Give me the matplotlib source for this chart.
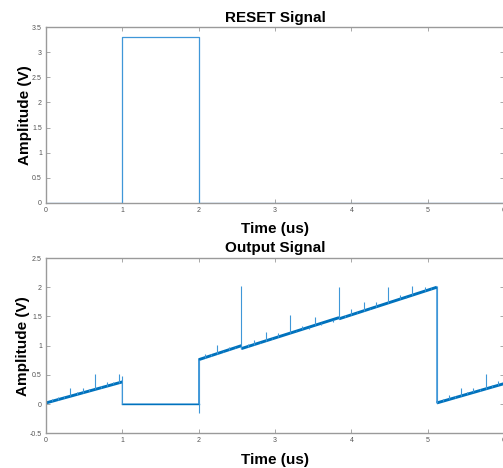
import numpy as np
import matplotlib
matplotlib.use("Agg")
import matplotlib.pyplot as plt

# ---- data ----
reset_t = [0, 1, 1, 2, 2, 6]
reset_v = [0, 0, 3.3, 3.3, 0, 0]

base_t = [0, 1, 1, 2, 2, 2.56, 2.56, 3.84, 3.84, 5.12, 5.12, 6]
base_v = [0.02, 0.38, 0.0, 0.0, 0.76, 1.0, 0.95, 1.48, 1.46, 2.0, 0.02, 0.35]

spike_t = [0.08, 0.16, 0.24, 0.32, 0.40, 0.48, 0.56, 0.64, 0.72, 0.80, 0.88, 0.96, 1.0,
           2.0, 2.08, 2.16, 2.24, 2.32, 2.40, 2.48, 2.56,
           2.64, 2.72, 2.80, 2.88, 2.96, 3.04, 3.12, 3.20, 3.28, 3.36, 3.44, 3.52,
           3.60, 3.68, 3.76, 3.84,
           3.92, 4.00, 4.08, 4.16, 4.24, 4.32, 4.40, 4.48, 4.56, 4.64, 4.72, 4.80,
           4.88, 4.96, 5.04, 5.12,
           5.20, 5.28, 5.36, 5.44, 5.52, 5.60, 5.68, 5.76, 5.84, 5.92]
spike_peak = [0.08, 0.13, 0.14, 0.27, 0.20, 0.27, 0.26, 0.52, 0.31, 0.37, 0.37, 0.52, 0.48,
              -0.15, 0.85, 0.85, 1.01, 0.91, 0.98, 0.98, 2.02,
              1.02, 1.10, 1.07, 1.24, 1.13, 1.22, 1.18, 1.52, 1.24, 1.33, 1.29, 1.49,
              1.35, 1.43, 1.40, 2.00,
              1.53, 1.62, 1.57, 1.75, 1.65, 1.74, 1.69, 2.01, 1.77, 1.86, 1.82, 2.02,
              1.90, 2.00, 1.99, 2.02,
              0.09, 0.15, 0.14, 0.27, 0.20, 0.27, 0.26, 0.51, 0.33, 0.40]

xticks = [0, 1, 2, 3, 4, 5, 6]
yticks_top = [0, 0.5, 1, 1.5, 2, 2.5, 3, 3.5]
yticks_bot = [-0.5, 0, 0.5, 1, 1.5, 2, 2.5]

# ---- style ----
plt.rcParams['font.family'] = ['Liberation Sans', 'DejaVu Sans']
BLUE = '#0072BD'
THIN = '#3f97d8'
SPINE = '#9a9a9a'
TICKC = '#555555'

fig = plt.figure(figsize=(5.03, 4.68), dpi=100)
ax1 = fig.add_axes([0.0915, 0.5669, 0.9105, 0.3748])
ax2 = fig.add_axes([0.0915, 0.0741, 0.9105, 0.3746])


def style(ax, yticks, ylim, title):
    ax.set_xlim(0, 6)
    ax.set_ylim(*ylim)
    ax.set_xticks(xticks)
    ax.set_yticks(yticks)
    ax.set_xticklabels([f"{v:g}" for v in xticks])
    ax.set_yticklabels([f"{v:g}" for v in yticks])
    ax.tick_params(direction='in', length=3, width=0.6, colors=SPINE,
                   labelcolor=TICKC, labelsize=5, top=True, right=True, pad=3)
    for s in ax.spines.values():
        s.set_color(SPINE)
        s.set_linewidth(1.0)
    ax.set_xlabel('Time (us)', fontsize=11, fontweight='bold', labelpad=6)
    ax.set_ylabel('Amplitude (V)', fontsize=11, fontweight='bold', labelpad=0)
    ax.set_title(title, fontsize=11, fontweight='bold', pad=4)


ax1.plot(reset_t, reset_v, color=THIN, lw=0.9)
style(ax1, yticks_top, (0, 3.5), 'RESET Signal')

# output signal
bt = np.array(base_t)
bv = np.array(base_v)
ax2.plot(bt, bv, color=THIN, lw=0.9)
for i in range(len(bt) - 1):
    if bt[i + 1] > bt[i] and bv[i + 1] != bv[i]:
        ax2.plot(bt[i:i + 2], bv[i:i + 2], color=BLUE, lw=2.1, solid_capstyle='butt')
    elif bt[i + 1] > bt[i]:
        ax2.plot(bt[i:i + 2], bv[i:i + 2], color=BLUE, lw=1.0)
st = np.array(spike_t)
sp = np.array(spike_peak)
sb = np.interp(st, bt, bv)
ax2.vlines(st, np.minimum(sb, sp), np.maximum(sb, sp), color=THIN, lw=0.8)
style(ax2, yticks_bot, (-0.5, 2.5), 'Output Signal')

fig.savefig('out.png', dpi=100)
